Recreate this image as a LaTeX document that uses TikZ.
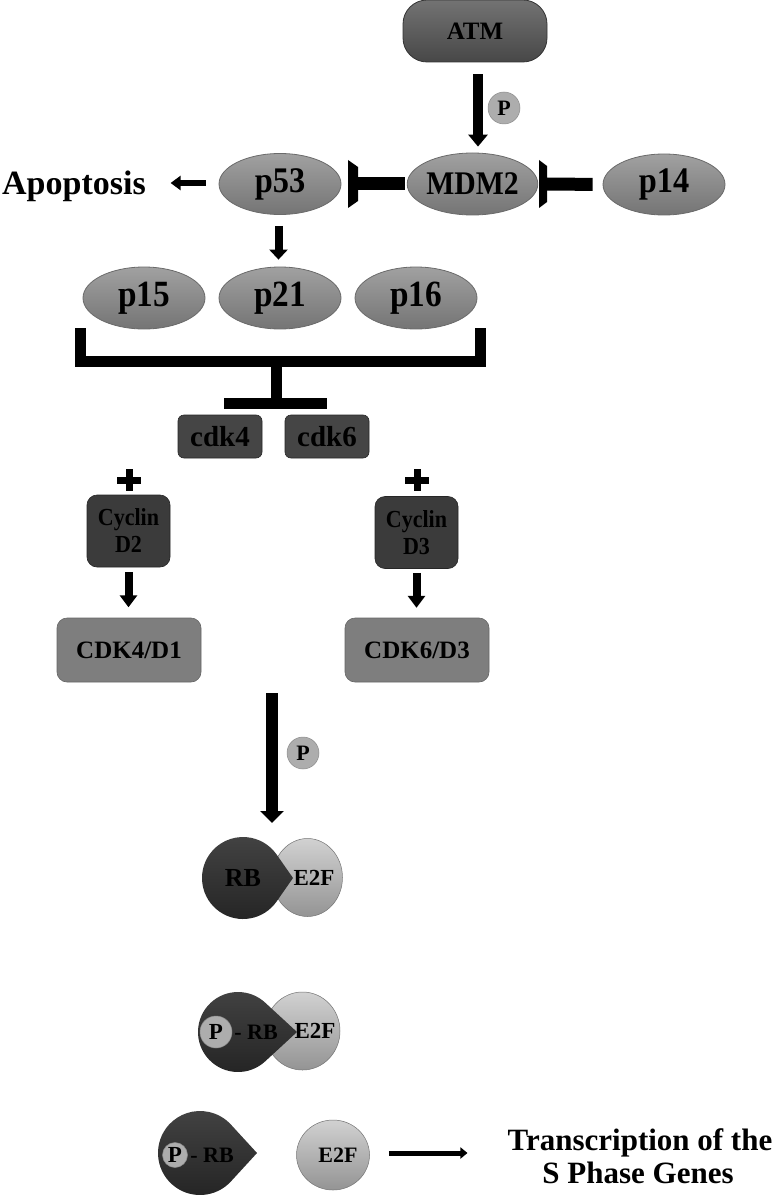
\documentclass[tikz,border=0pt]{standalone}
\usepackage{fontspec}
\setmainfont{Liberation Serif}
\newfontfamily\narrowfont{Liberation Serif}[FakeStretch=0.9]
\usetikzlibrary{arrows.meta,shapes.geometric,calc}
\definecolor{ellfill}{HTML}{898989}
\definecolor{ellline}{HTML}{6A6A6A}
\definecolor{darkbox}{HTML}{454545}
\definecolor{cycfill}{HTML}{3B3B3B}
\definecolor{midfill}{HTML}{7E7E7E}
\definecolor{pfill}{HTML}{ADADAD}
\newcommand\fsz[1]{\fontsize{#1}{#1}\selectfont\bfseries}
\newcommand\nfsz[1]{\narrowfont\fontsize{#1}{#1}\selectfont\bfseries}
\begin{document}
\begin{tikzpicture}[x=1pt,y=-1pt,
  blob/.style={ellipse, draw=ellline, line width=0.8pt, top color=ellfill!80!white, bottom color=ellfill!85!black,
    minimum width=122pt, minimum height=61pt, inner sep=0pt, font=\nfsz{36}},
  atmbox/.style={rectangle, rounded corners=24pt, draw=black!80, line width=0.8pt, top color=black!55, bottom color=black!72,
    minimum width=144pt, minimum height=62pt, inner sep=0pt, font=\fsz{25}},
  cdkbox/.style={rectangle, rounded corners=6pt, fill=darkbox, draw=black!85, line width=0.6pt,
    minimum width=84pt, minimum height=43pt, inner sep=0pt, font=\fsz{29}},
  cycbox/.style={rectangle, rounded corners=10pt, fill=cycfill, draw=black!85, line width=0.6pt,
    minimum width=83pt, minimum height=72pt, inner sep=0pt, align=center,
    font=\narrowfont\fontsize{24.5}{27}\selectfont\bfseries},
  midbox/.style={rectangle, rounded corners=10pt, fill=midfill, draw=black!60, line width=0.6pt,
    minimum width=144pt, minimum height=64pt, inner sep=0pt, font=\fsz{25}},
  pcirc/.style={circle, fill=pfill, draw=black!45, line width=0.5pt, minimum size=32pt, inner sep=0pt, font=\fsz{22}},
  e2fshape/.style={ellipse, draw=black!55, line width=0.5pt, top color=black!18, bottom color=black!42, inner sep=0pt},
  txt/.style={inner sep=0pt},
  arrA/.style={line width=10pt, -{Triangle[width=19pt,length=12pt]}},
  arrP/.style={line width=8pt, -{Triangle[width=18pt,length=10pt]}},
  arrC/.style={line width=8pt, -{Triangle[width=17pt,length=12pt]}},
  arrD/.style={line width=6pt, -{Triangle[width=14pt,length=10pt]}},
  arrB/.style={line width=12pt, -{Triangle[width=23pt,length=12pt]}},
  arrE/.style={line width=5pt, -{Triangle[width=11pt,length=7pt]}},
  inh/.style={line width=13pt},
  brk/.style={line width=11pt, line join=miter},
  plussign/.style={line width=7pt},
  rbshape/.style={top color=black!74, bottom color=black!86}
]
\path[use as bounding box] (0,0) rectangle (774,1198);

% ---------- top row ----------
\node[atmbox] (atm) at (475,31) {ATM};
\node[blob, minimum width=121pt, minimum height=62pt, font=\nfsz{33}] (mdm2) at (472.5,184) {MDM2};
\node[blob] (p53) at (280,184) {p53};
\node[blob] (p14) at (664,184.5) {p14};
\node[txt, anchor=base west, font=\fsz{34}] (apop) at (2,195) {Apoptosis};
\node[pcirc] (pA) at (504,108) {P};

\draw[arrA] ($(atm.south)+(3,12)$) -- ($(mdm2.north)+(5.5,-6)$);
\draw[arrD] ($(p53.west)+(-13,-1)$) -- ($(p53.west)+(-48,-1)$);

% inhibition MDM2 -| p53
\coordinate (ib1) at (358,184);
\draw[inh, shorten <=2pt] (mdm2.west) -- (ib1);
\fill ($(ib1)+(-10,-24)$) -- ($(ib1)+(0,-17)$) -- ($(ib1)+(0,17)$) -- ($(ib1)+(-10,24)$) -- cycle;
% inhibition p14 -| MDM2
\coordinate (ib2) at (547,184);
\draw[inh, shorten <=10pt] (p14.west) -- (ib2);
\fill ($(ib2)+(-8,-24)$) -- ($(ib2)+(0,-18)$) -- ($(ib2)+(0,18)$) -- ($(ib2)+(-8,24)$) -- cycle;

% ---------- p15 p21 p16 ----------
\node[blob, minimum height=62pt, font=\nfsz{37}] (p15) at (144,298) {p15};
\node[blob, minimum height=62pt, font=\nfsz{37}] (p21) at (280,298) {p21};
\node[blob, minimum height=62pt, font=\nfsz{37}] (p16) at (416,298) {p16};
\draw[arrP] ($(p53.south)+(-1.5,11)$) -- ($(p21.north)+(-1.5,-7)$);

% bracket
\coordinate (brL) at (80.5,328);
\coordinate (brR) at (480.5,328);
\coordinate (brM) at (276.5,361.5);
\coordinate (brS) at (276.5,403.5);
\coordinate (bbL) at (224,403.5);
\coordinate (bbR) at (327,403.5);
\draw[brk] (brL) |- (brM) -| (brR);
\draw[brk] (brM) -- (brS);
\draw[brk] (bbL) -- (bbR);

% ---------- cdk ----------
\node[cdkbox] (cdk4) at (220,436.5) {cdk4};
\node[cdkbox] (cdk6) at (327,436.5) {cdk6};

\draw[plussign] (117,480) -- (141,480);
\draw[plussign] (129,469) -- (129,491);
\draw[plussign] (405,480) -- (429,480);
\draw[plussign] (417,469) -- (417,491);

\node[cycbox] (cyc2) at (128.5,531) {Cyclin\\D2};
\node[cycbox] (cyc3) at (416.5,532.5) {Cyclin\\D3};
\node[midbox] (cdkA) at (129,650) {CDK4/D1};
\node[midbox] (cdkB) at (417,650) {CDK6/D3};
\draw[arrC] ($(cyc2.south)+(0,5)$) -- ($(cyc2.south)+(0,40)$);
\draw[arrC] ($(cyc3.south)+(0,4)$) -- ($(cyc3.south)+(0,39)$);

% big arrow
\coordinate (bigs) at (272,693);
\coordinate (bige) at (272,823);
\draw[arrB] (bigs) -- (bige);
\node[pcirc] (pB) at (303,753) {P};

% ---------- RB / E2F complex 1 ----------
\node[e2fshape, minimum width=70pt, minimum height=78pt] (e2f1) at (307.5,877.5) {};
\shade[rbshape] (293,878) -- ($(243,878)+(35:41)$) arc[start angle=35, end angle=325, radius=41] -- cycle;
\node[txt, font=\fsz{26}] (rb1) at (243,878) {RB};
\node[txt, font=\fsz{23}] (e2ft1) at (314,878) {E2F};

% ---------- P-RB / E2F complex 2 ----------
\node[e2fshape, minimum width=75pt, minimum height=78pt] (e2f2) at (302.5,1031) {};
\shade[rbshape] (297,1032) -- ($(238,1032)+(47:40)$) arc[start angle=47, end angle=313, radius=40] -- cycle;
\node[pcirc, font=\fsz{23}] (pC) at (216,1032) {P};
\node[txt, font=\fsz{22}] (rb2) at (256,1032) {- RB};
\node[txt, font=\fsz{23}] (e2ft2) at (315,1031) {E2F};

% ---------- P-RB and E2F separated ----------
\shade[rbshape] (257,1153) -- ($(200,1153)+(42:42)$) arc[start angle=42, end angle=318, radius=42] -- cycle;
\node[pcirc, minimum size=25pt, font=\fsz{23}] (pD) at (175,1155) {P};
\node[txt, font=\fsz{22}] (rb3) at (212,1155) {- RB};
\node[e2fshape, minimum width=73pt, minimum height=70pt] (e2f3) at (333,1155) {};
\node[txt, font=\fsz{22}] (e2ft3) at (338,1155) {E2F};

\node[txt, anchor=base, font=\fsz{31}] (trans) at (640,1150) {Transcription of the};
\node[txt, anchor=base, font=\fsz{31}] (trans2) at (638,1183) {S Phase Genes};
\draw[arrE] ($(e2f3.east)+(19,-2)$) -- ($(e2f3.east -| trans.west)+(-40,-2)$);
\end{tikzpicture}
\end{document}
